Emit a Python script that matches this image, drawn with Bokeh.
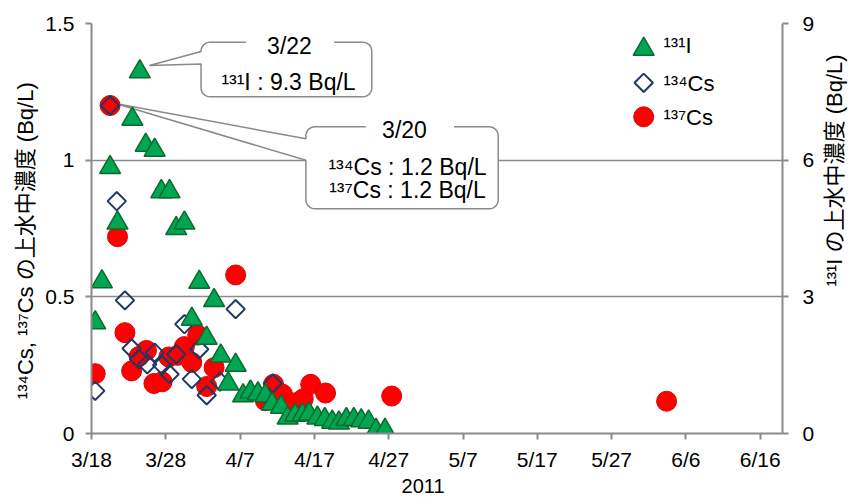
import math
from bokeh.plotting import figure
from bokeh.layouts import row
from bokeh.models import Range1d, LinearAxis, FixedTicker, NumeralTickFormatter, Label
from bokeh.embed import file_html
from bokeh.resources import INLINE

# ---------------- data ----------------
# x = days since 2011-03-18
x_tick_days = [0, 10, 20, 30, 40, 50, 60, 70, 80, 90]
x_tick_labels = ["3/18", "3/28", "4/7", "4/17", "4/27", "5/7", "5/17", "5/27", "6/6", "6/16"]
y_left_ticks = [0, 0.5, 1, 1.5]
y_right_ticks = [0, 3, 6, 9]

# 131I (Bq/L, right axis); 3/22 value 9.3 is above the axis maximum
i131_day = [0.5, 1.4, 2.5, 3.5, 4.5, 5.5, 6.5, 7.3, 8.5, 9.4, 10.5, 11.4, 12.5, 13.5,
            14.5, 15.5, 16.5, 17.4, 18.4, 19.4, 20.4, 21.4, 22.4, 23.4, 24.3, 25.5,
            26.4, 27.4, 28.4, 29.3, 30.4, 31.4, 32.4, 33.3, 34.3, 35.3, 36.3, 37.3,
            38.3, 39.5]
i131_val = [2.43, 3.33, 5.84, 4.62, 9.3, 6.90, 7.94, 6.33, 6.22, 5.31, 5.31, 4.50, 4.62, 2.51,
            3.32, 2.09, 2.92, 1.70, 1.09, 1.50, 0.83, 0.91, 0.87, 0.83, 0.65, 0.58,
            0.34, 0.40, 0.41, 0.43, 0.34, 0.31, 0.25, 0.23, 0.31, 0.31, 0.28, 0.25,
            0.07, 0.07]

# 134Cs (Bq/L, left axis)
cs134_day = [0.5, 2.5, 3.4, 4.5, 5.4, 6.4, 7.5, 8.5, 9.5, 10.5, 11.4, 12.5, 13.5,
             14.5, 15.5, 17.3, 19.4, 24.4]
cs134_val = [0.156, 1.2, 0.85, 0.487, 0.311, 0.272, 0.253, 0.296, 0.25, 0.217, 0.29,
             0.40, 0.199, 0.308, 0.14, 0.19, 0.455, 0.183]

# 137Cs (Bq/L, left axis)
cs137_day = [0.5, 2.5, 3.5, 4.5, 5.4, 6.4, 7.4, 8.4, 9.5, 10.4, 11.6, 12.5, 13.5,
             14.3, 15.5, 16.5, 19.4, 23.4, 24.5, 25.7, 27.3, 28.5, 29.5, 31.5, 40.4, 77.4]
cs137_val = [0.219, 1.2, 0.72, 0.369, 0.229, 0.282, 0.304, 0.183, 0.189, 0.28, 0.286,
             0.318, 0.26, 0.36, 0.172, 0.241, 0.58, 0.12, 0.18, 0.144, 0.112, 0.127,
             0.18, 0.148, 0.137, 0.118]

legend_labels = ["¹³¹I", "¹³⁴Cs", "¹³⁷Cs"]
left_title = "¹³⁴Cs, ¹³⁷Cs の上水中濃度 (Bq/L)"
right_title = "¹³¹I の上水中濃度 (Bq/L)"
x_title = "2011"
callout1_title = "3/22"
callout1_lines = ["¹³¹I : 9.3 Bq/L"]
callout2_title = "3/20"
callout2_lines = ["¹³⁴Cs : 1.2 Bq/L", "¹³⁷Cs : 1.2 Bq/L"]

# ---------------- layout ----------------
H = 502
FL, FT, FW, FH = 91, 23, 692, 410
RB = 34                      # right border of main figure (right tick labels)
W = FL + FW + RB             # main figure width
W2 = 31                      # narrow strip holding the right axis title
X_MAX, Y_MAX, Y2_MAX = 93, 1.5, 9
PL, PB = FL + 1, FT + 1 + FH   # frame left / bottom in page pixels
NBSP = "\u00a0"

def to_data(xp, yp):
    return (xp - PL) / FW * X_MAX, (PB - yp) / FH * Y_MAX

def to_screen(xp, yp):
    return xp - PL, PB - yp

FONT = "Liberation Sans"
FONT_JP = "Liberation Sans, Noto Sans CJK JP"
GRAY = "#8a8a8a"

p = figure(width=W, height=H, x_range=Range1d(0, X_MAX), y_range=Range1d(0, Y_MAX),
           output_backend="svg", toolbar_location=None,
           min_border_left=FL, min_border_right=RB,
           min_border_top=FT, min_border_bottom=H - FT - FH)
p.outline_line_color = None
p.background_fill_color = "white"
p.border_fill_color = "white"
p.xgrid.visible = False
p.ygrid.grid_line_color = GRAY
p.ygrid.grid_line_width = 1.5

def style_axis(ax, standoff):
    ax.axis_line_color = GRAY
    ax.axis_line_width = 2
    ax.major_tick_line_color = GRAY
    ax.major_tick_line_width = 2
    ax.major_tick_out = 6
    ax.major_tick_in = 0
    ax.minor_tick_line_color = None
    ax.major_label_text_font = FONT
    ax.major_label_text_font_size = "21px"
    ax.major_label_text_color = "black"
    ax.major_label_standoff = standoff
    ax.axis_label_text_font = FONT_JP
    ax.axis_label_text_font_size = "22px"
    ax.axis_label_text_font_style = "normal"
    ax.axis_label_text_color = "black"

xa = p.xaxis[0]
xa.ticker = FixedTicker(ticks=x_tick_days)
xa.major_label_overrides = dict(zip(x_tick_days, x_tick_labels))
style_axis(xa, 8)
xa.axis_label = x_title + NBSP * 5
xa.axis_label_text_font = FONT
xa.axis_label_standoff = 1
xa.axis_label_text_font_size = "20px"

ya = p.yaxis[0]
ya.ticker = FixedTicker(ticks=y_left_ticks)
ya.formatter = NumeralTickFormatter(format="0.[0]")
style_axis(ya, 11)
ya.axis_label = left_title + NBSP * 4
ya.axis_label_standoff = 4

p.extra_y_ranges = {"i131": Range1d(0, Y2_MAX)}
ya2 = LinearAxis(y_range_name="i131", ticker=FixedTicker(ticks=y_right_ticks))
style_axis(ya2, 14)
p.add_layout(ya2, "right")

# ---------------- callouts ----------------
def callout_path(x0, y0, x1, y1, r, wt, wb, tip, gl, gr):
    pts = [(gr, y0), (x1 - r, y0)]
    def arc(cx, cy, a0, a1):
        for k in range(1, 9):
            a = math.radians(a0 + (a1 - a0) * k / 8)
            pts.append((cx + r * math.cos(a), cy + r * math.sin(a)))
    arc(x1 - r, y0 + r, -90, 0)
    pts.append((x1, y1 - r))
    arc(x1 - r, y1 - r, 0, 90)
    pts.append((x0 + r, y1))
    arc(x0 + r, y1 - r, 90, 180)
    pts += [(x0, wb), tip, (x0, wt), (x0, y0 + r)]
    arc(x0 + r, y0 + r, 180, 270)
    pts.append((gl, y0))
    d = [to_data(a, b) for a, b in pts]
    return [q[0] for q in d], [q[1] for q in d]

for spec in [dict(x0=201.7, y0=42.7, x1=372.7, y1=97.3, r=9, wt=52, wb=64.5, tip=(150, 66), gl=246.7, gr=335),
             dict(x0=306.7, y0=127.3, x1=499.3, y1=209.3, r=9, wt=139.3, wb=160.7, tip=(116, 104), gl=366.7, gr=455)]:
    xs, ys = callout_path(**spec)
    p.patch(xs, ys, fill_color="white", line_color=None)
    p.line(xs, ys, line_color=GRAY, line_width=1.5)

def add_label(fig, text, sx, sy, size, align="center", angle=0, font=FONT):
    fig.add_layout(Label(x=sx, y=sy, x_units="screen", y_units="screen", text=text,
                         text_font=font, text_font_size=size, text_color="black",
                         text_align=align, text_baseline="middle", angle=angle))

def add_page_label(text, xp, yp, size, align="center"):
    sx, sy = to_screen(xp, yp)
    add_label(p, text, sx, sy, size, align=align)

add_page_label(callout1_title, 290, 46, "23px")
add_page_label(callout1_lines[0], 289, 82, "23px")
add_page_label(callout2_title, 405, 130, "23px")
add_page_label(callout2_lines[0], 408, 167, "23px")
add_page_label(callout2_lines[1], 408, 190, "23px")

# ---------------- data marks ----------------
circle_style = dict(marker="circle", size=20, fill_color="#FF0000", line_color="#E00000", line_width=1)
diamond_style = dict(marker="square", angle=math.pi / 4, size=13, fill_alpha=0,
                     line_color="#1F3864", line_width=2)
tri_style = dict(marker="triangle", size=21, fill_color="#00A651", line_color="#0B6B2E", line_width=1.5)

p.scatter(cs137_day, cs137_val, **circle_style)
p.scatter(cs134_day, cs134_val, **diamond_style)
p.scatter(i131_day, i131_val, y_range_name="i131", **tri_style)

# ---------------- legend (manual) ----------------
leg_x = 645
leg_rows = [49.7, 83.3, 117.3]
for st, yp in zip([tri_style, diamond_style, circle_style], leg_rows):
    dx, dy = to_data(leg_x, yp)
    p.scatter([dx], [dy], **st)
for lab, yp in zip(legend_labels, [46, 84, 118]):
    add_page_label(lab, 664, yp, "22px", align="left")

# ---------------- right axis title strip ----------------
p2 = figure(width=W2, height=H, x_range=Range1d(0, 1), y_range=Range1d(0, 1),
            output_backend="svg", toolbar_location=None,
            min_border_left=0, min_border_right=0, min_border_top=0, min_border_bottom=0)
p2.axis.visible = False
p2.grid.visible = False
p2.outline_line_color = None
p2.background_fill_color = "white"
p2.border_fill_color = "white"
strip_left = W + 1                       # page x of the strip's left edge
add_label(p2, right_title, 835 - strip_left, (H + 1) - 240, "22px",
          angle=math.pi / 2, font=FONT_JP)

layout = row(p, p2, spacing=0)
open("out.html", "w").write(file_html(layout, INLINE))
